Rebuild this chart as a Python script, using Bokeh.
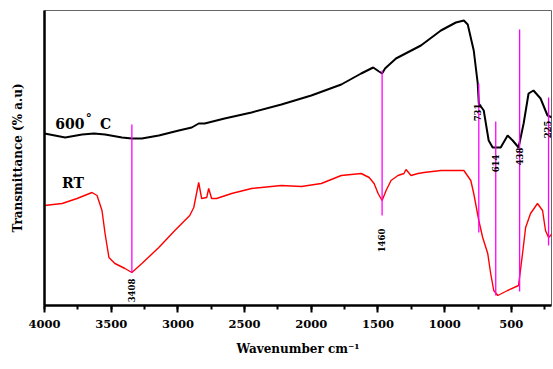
import math
from bokeh.plotting import figure
from bokeh.models import Range1d, SingleIntervalTicker, FixedTicker
from bokeh.core.properties import value
from bokeh.embed import file_html
from bokeh.resources import INLINE

# 600 °C spectrum (wavenumber cm^-1, transmittance a.u.)
w600 = [4000, 3845, 3718, 3629, 3546, 3419, 3345, 3270, 3143, 2993, 2896, 2844, 2799,
        2650, 2448, 2224, 2000, 1775, 1626, 1536, 1492, 1469, 1447, 1365, 1178, 1028,
        916, 856, 827, 782, 752, 744, 707, 670, 640, 580, 528, 490, 446, 408, 371, 334,
        281, 229, 192]
t600 = [172, 168, 171, 172, 171, 168, 167, 167, 170, 175, 178, 182, 182,
        187, 193, 201, 210, 221, 232, 238, 234, 232, 237, 247, 260, 275,
        283, 285, 281, 255, 222, 202, 195, 165, 158, 158, 170, 165, 158, 182, 212, 215,
        207, 190, 188]

# RT spectrum
wRT = [4000, 3868, 3756, 3644, 3606, 3569, 3546, 3517, 3472, 3397, 3345, 3270, 3143,
       3023, 2911, 2881, 2844, 2822, 2784, 2769, 2747, 2710, 2597, 2448, 2224, 2074,
       1925, 1775, 1626, 1566, 1529, 1499, 1469, 1439, 1402, 1350, 1305, 1290, 1252,
       1200, 1155, 1028, 856, 804, 782, 744, 715, 677, 655, 632, 602, 528, 446, 416,
       393, 356, 304, 266, 244, 221, 192]
tRT = [100, 102, 107, 113, 110, 95, 72, 48, 42, 37, 33, 42, 58,
       75, 90, 98, 123, 107, 108, 117, 107, 107, 112, 117, 120, 119,
       122, 130, 132, 128, 122, 112, 105, 115, 125, 130, 132, 136, 130,
       132, 133, 135, 135, 125, 112, 85, 68, 52, 32, 15, 10, 15, 20, 52,
       78, 92, 102, 95, 75, 68, 72]

# marked bands
band_pos = [3345, 1469, 744, 617, 438, 221]
band_top = [181, 235, 222, 184, 276, 208]
band_bot = [33, 90, 73, 10, 14, 60]
band_text = ["3408", "1460", "731", "614", "438", "225"]
band_lx = [3345, 1475, 752, 617, 438, 231]
band_ly = [15, 65, 193, 142, 149, 176]

x_ticks = [4000, 3500, 3000, 2500, 2000, 1500, 1000, 500]

FONT = "DejaVu Serif"

p = figure(width=553, height=369, output_backend="svg", toolbar_location=None,
           x_range=Range1d(4000, 199), y_range=Range1d(0, 295),
           min_border_left=44, min_border_right=2, min_border_top=10,
           min_border_bottom=64)
p.grid.visible = False
p.outline_line_color = "#666666"
p.outline_line_width = 1
p.background_fill_color = "white"
p.border_fill_color = "white"

p.xaxis.ticker = SingleIntervalTicker(interval=500, num_minor_ticks=2)
p.xaxis.axis_line_width = 2.5
p.xaxis.major_tick_line_width = 2
p.xaxis.minor_tick_line_width = 2
p.xaxis.major_tick_out = 7
p.xaxis.major_tick_in = 0
p.xaxis.minor_tick_out = 4
p.xaxis.minor_tick_in = 0
p.xaxis.major_label_text_font = FONT
p.xaxis.major_label_text_font_style = "bold"
p.xaxis.major_label_text_font_size = "11.5px"
p.xaxis.major_label_text_color = "black"
p.xaxis.major_label_standoff = 7
p.xaxis.axis_label = "Wavenumber cm\u207b\u00b9"
p.xaxis.axis_label_text_font = FONT
p.xaxis.axis_label_text_font_style = "bold"
p.xaxis.axis_label_text_font_size = "12px"
p.xaxis.axis_label_text_color = "black"
p.xaxis.axis_label_standoff = 11

p.yaxis.ticker = FixedTicker(ticks=[])
p.yaxis.axis_line_width = 2.5
p.yaxis.major_tick_out = 0
p.yaxis.major_tick_in = 0
p.yaxis.minor_tick_out = 0
p.yaxis.minor_tick_in = 0
p.yaxis.major_label_standoff = 0
p.yaxis.axis_label = "Transmittance (% a.u)"
p.yaxis.axis_label_text_font = FONT
p.yaxis.axis_label_text_font_style = "bold"
p.yaxis.axis_label_text_font_size = "12px"
p.yaxis.axis_label_text_color = "black"
p.yaxis.axis_label_standoff = 20

p.line(w600, t600, line_color="black", line_width=2)
p.line(wRT, tRT, line_color="#ff0000", line_width=1.4)

p.segment(x0=band_pos, y0=band_bot, x1=band_pos, y1=band_top,
          line_color="#ff00ff", line_width=1.3)
p.text(x=band_lx, y=band_ly, text=band_text, angle=math.pi / 2,
       text_align="center", text_baseline="middle",
       text_font=value(FONT), text_font_style="bold", text_font_size="8.5px",
       text_color="black")

p.text(x=[3920], y=[182], text=["600"], text_font=value(FONT),
       text_font_style="bold", text_font_size="14px", text_baseline="alphabetic")
p.text(x=[3690], y=[187], text=["\u00b0"], text_font=value(FONT),
       text_font_style="bold", text_font_size="12px", text_baseline="alphabetic")
p.text(x=[3584], y=[182], text=["C"], text_font=value(FONT),
       text_font_style="bold", text_font_size="14px", text_baseline="alphabetic")
p.text(x=[3868], y=[123], text=["RT"], text_font=value(FONT),
       text_font_style="bold", text_font_size="14px", text_baseline="alphabetic")

open("out.html", "w").write(file_html(p, INLINE))
